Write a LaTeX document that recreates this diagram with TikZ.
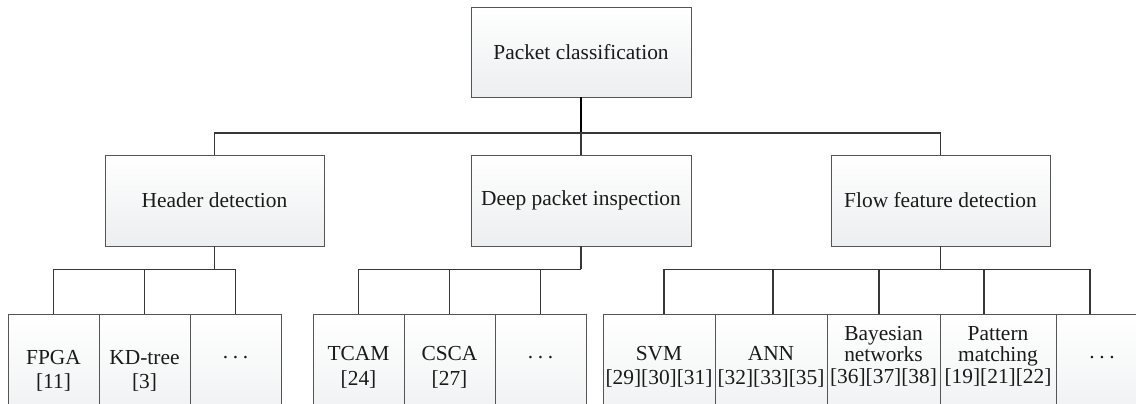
\documentclass[tikz,border=0pt]{standalone}
\usepackage{fontspec}
\setmainfont{Liberation Serif}
\definecolor{boxline}{RGB}{85,85,85}
\definecolor{boxbot}{RGB}{236,238,239}
\definecolor{wire}{RGB}{55,55,55}
\definecolor{ink}{RGB}{26,26,26}
\newcommand\tdots{.\kern0.22em.\kern0.22em.}
\tikzset{
  box/.style={draw=boxline, line width=0.9pt, top color=white, bottom color=boxbot,
    inner sep=0pt, text=ink, font=\fontsize{21.4}{24.5}\selectfont},
  leaf/.style={box, minimum height=126, anchor=north},
  lbl/.style={inner sep=0pt, align=center, text=ink, font=\fontsize{21.4}{24.5}\selectfont},
  lbltri/.style={lbl, font=\fontsize{21.4}{21.5}\selectfont},
  conn/.style={draw=wire, line width=1.2pt},
  rootconn/.style={draw=black, line width=1.6pt}
}
\begin{document}
\begin{tikzpicture}[x=1pt, y=-1pt]
\useasboundingbox (0,0) rectangle (1136,404);
\clip (0,0) rectangle (1136,404);

% root and second level
\node[box, minimum width=220, minimum height=90] (pc) at (581,52) {Packet classification};
\node[box, minimum width=219, minimum height=91] (hd) at (214.5,200.5) {Header detection};
\node[box, minimum width=220, minimum height=91] (dp) at (581,200.5) {Deep packet inspection};
\node[box, minimum width=219, minimum height=91] (ff) at (940.5,200.5) {Flow feature detection};

% leaves under header detection
\node[leaf, minimum width=91] (h1) at (53.5,314) {};
\node[leaf, minimum width=91] (h2) at (144.5,314) {};
\node[leaf, minimum width=91] (h3) at (235.5,314) {};
% leaves under deep packet inspection
\node[leaf, minimum width=91] (d1) at (358.5,314) {};
\node[leaf, minimum width=91] (d2) at (449.5,314) {};
\node[leaf, minimum width=91] (d3) at (540.5,314) {};
% leaves under flow feature detection
\node[leaf, minimum width=112] (f1) at (659,314) {};
\node[leaf, minimum width=112] (f2) at (771,314) {};
\node[leaf, minimum width=113] (f3) at (883.5,314) {};
\node[leaf, minimum width=116] (f4) at (998,314) {};
\node[leaf, minimum width=114] (f5) at (1113,314) {};

% leaf labels
\node[lbl] (th1) at (53.5,371) {FPGA\\{[11]}};
\node[lbl] (th2) at (144.5,371) {KD-tree\\{[3]}};
\node[lbl] (th3) at (235.5,358) {\tdots};
\node[lbl] (td1) at (358.5,367.5) {TCAM\\{[24]}};
\node[lbl] (td2) at (449.5,367.5) {CSCA\\{[27]}};
\node[lbl] (td3) at (540.5,358) {\tdots};
\node[lbl] (tf1) at (659,367) {SVM\\{[29][30][31]}};
\node[lbl] (tf2) at (771,367) {ANN\\{[32][33][35]}};
\node[lbltri] (tf3) at (883.5,356) {Bayesian\\networks\\{[36][37][38]}};
\node[lbltri] (tf4) at (998,356) {Pattern\\matching\\{[19][21][22]}};
\node[lbl] (tf5) at (1102,358) {\tdots};

% first-level bus
\coordinate (rb) at (581,133);
\draw[rootconn] (pc.south) -- (rb);
\draw[conn] (hd.north) |- (rb) -| (ff.north);
\draw[conn] (rb) -- (dp.north);

% header detection bus
\draw[conn] (hd.south) -- ++(0,23) coordinate (hb);
\draw[conn] (h1.north) |- (hb);
\draw[conn] (h3.north) |- (hb);
\draw[conn] (h2.north) -- (h2.north |- hb);

% deep packet inspection bus
\draw[conn] (dp.south) -- ++(0,23) coordinate (db);
\draw[conn] (d1.north) |- (db);
\draw[conn] (d2.north) -- (d2.north |- db);
\draw[conn] (d3.north) -- (d3.north |- db);

% flow feature detection bus
\draw[conn] (ff.south) -- ++(0,23) coordinate (fb);
\coordinate (f1t) at (664,314);
\coordinate (f2t) at (773,314);
\coordinate (f3t) at (879,314);
\coordinate (f4t) at (984,314);
\coordinate (f5t) at (1090,314);
\draw[conn] (f1t) |- (fb);
\draw[conn] (f5t) |- (fb);
\draw[conn] (f2t) -- (f2t |- fb);
\draw[conn] (f3t) -- (f3t |- fb);
\draw[conn] (f4t) -- (f4t |- fb);
\end{tikzpicture}
\end{document}
